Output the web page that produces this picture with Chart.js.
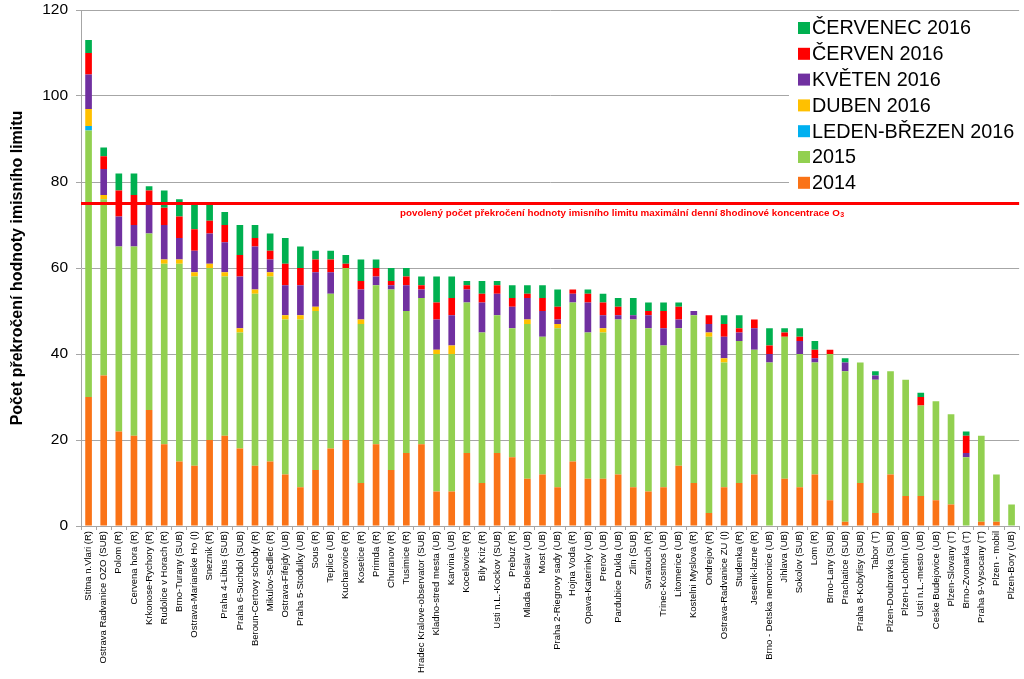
<!DOCTYPE html>
<html>
<head>
<meta charset="utf-8">
<script src="https://cdn.jsdelivr.net/npm/chart.js@4.4.1/dist/chart.umd.min.js"></script>
<style>
html,body{margin:0;padding:0;background:#fff;}
#wrap{width:1024px;height:679px;position:relative;}
</style>
</head>
<body>
<div id="wrap"><canvas id="c" width="1024" height="679"></canvas></div>
<script>
const categories = ["Stitna n.Vlari (R)","Ostrava Radvanice OZO (SUB)","Polom (R)","Cervena hora (R)","Krkonose-Rychory (R)","Rudolice v Horach (R)","Brno-Turany (SUB)","Ostrava-Marianske Ho (I)","Sneznik (R)","Praha 4-Libus (SUB)","Praha 6-Suchdol (SUB)","Beroun-Certovy schody (R)","Mikulov-Sedlec (R)","Ostrava-Fifejdy (UB)","Praha 5-Stodulky (UB)","Sous (R)","Teplice (UB)","Kucharovice (R)","Kosetice (R)","Primda (R)","Churanov (R)","Tusimice (R)","Hradec Kralove-observator (SUB)","Kladno-stred mesta (UB)","Karvina (UB)","Kocelovice (R)","Bily Kriz (R)","Usti n.L.-Kockov (SUB)","Prebuz (R)","Mlada Boleslav (UB)","Most (UB)","Praha 2-Riegrovy sady (UB)","Hojna Voda (R)","Opava-Katerinky (UB)","Prerov (UB)","Pardubice Dukla (UB)","Zlin (SUB)","Svratouch (R)","Trinec-Kosmos (UB)","Litomerice (UB)","Kostelni Myslova (R)","Ondrejov (R)","Ostrava-Radvanice ZU (I)","Studenka (R)","Jesenik-lazne (R)","Brno - Detska nemocnice (UB)","Jihlava (UB)","Sokolov (SUB)","Lom (R)","Brno-Lany (SUB)","Prachatice (SUB)","Praha 8-Kobylisy (SUB)","Tabor (T)","Plzen-Doubravka (SUB)","Plzen-Lochotin (UB)","Usti n.L.-mesto (UB)","Ceske Budejovice (UB)","Plzen-Slovany (T)","Brno-Zvonarka (T)","Praha 9-Vysocany (T)","Plzen - mobil","Plzen-Bory (UB)"];

const s2014 = [30,35,22,21,27,19,15,14,20,21,18,14,15,12,9,13,18,20,10,19,13,17,19,8,8,17,10,17,16,11,12,9,15,11,11,12,9,8,9,14,10,3,9,10,12,0,11,9,12,6,1,10,3,12,7,7,6,5,0,1,1,0];
const s2015 = [62,41,43,44,41,42,46,44,40,37,27,40,43,36,39,37,36,40,37,37,42,33,34,32,32,35,35,32,30,36,32,37,37,34,34,36,39,38,33,32,39,41,29,33,29,38,33,31,26,34,35,28,31,24,27,21,23,21,16,20,11,5];
const sLedenBrezen = [1,0,0,0,0,0,0,0,0,0,0,0,0,0,0,0,0,0,0,0,0,0,0,0,0,0,0,0,0,0,0,0,0,0,0,0,0,0,0,0,0,0,0,0,0,0,0,0,0,0,0,0,0,0,0,0,0,0,0,0,0,0];
const sDuben = [4,1,0,0,0,1,1,1,1,1,1,1,1,1,1,1,0,0,1,0,0,0,0,1,2,0,0,0,0,1,0,1,0,0,1,0,0,0,0,0,0,1,1,0,0,0,0,0,0,0,0,0,0,0,0,0,0,0,0,0,0,0];
const sKveten = [8,6,7,5,7,8,5,5,7,7,12,10,3,7,7,8,5,0,7,2,1,6,2,7,7,3,7,5,5,5,6,1,2,7,3,1,1,3,4,2,1,2,5,2,5,2,0,3,1,0,2,0,1,0,0,0,0,0,1,0,0,0];
const sCerven = [5,3,6,7,3,4,5,5,3,4,5,2,2,5,4,3,3,1,2,2,1,2,1,4,4,1,2,2,2,1,3,3,1,2,3,2,0,1,4,3,0,2,3,1,2,2,1,1,2,1,0,0,0,0,0,2,0,0,4,0,0,0];
const sCervenec = [3,2,4,5,1,4,4,6,4,3,7,3,4,6,5,2,2,2,5,2,3,2,2,6,5,1,3,1,3,2,3,4,0,1,2,2,4,2,2,1,0,0,2,3,0,4,1,2,2,0,1,0,1,0,0,1,0,0,1,0,0,0];

const yTicks = [0,20,40,60,80,100,120];
const limitValue = 75;
const limitText = "povolený počet překročení hodnoty imisního limitu maximální denní 8hodinové koncentrace O";
const yTitle = "Počet překročení hodnoty imisního limitu";

const seriesNames = ["2014","2015","LEDEN-BŘEZEN 2016","DUBEN 2016","KVĚTEN 2016","ČERVEN 2016","ČERVENEC 2016"];
const seriesData = [s2014,s2015,sLedenBrezen,sDuben,sKveten,sCerven,sCervenec];
const seriesColors = ["#FA7317","#92D050","#00B0F0","#FFC000","#7030A0","#FF0000","#00B050"];

const FONT = "'Liberation Sans', Arial, sans-serif";

const datasets = seriesNames.map((n,i)=>({
  label:n, data:seriesData[i], backgroundColor:seriesColors[i], borderWidth:0,
  barPercentage:0.44, categoryPercentage:1.0, stack:'s'
}));

const limitPlugin = {
  id:'limit',
  afterDatasetsDraw(chart){
    const ctx = chart.ctx, a = chart.chartArea, y = chart.scales.y.getPixelForValue(limitValue);
    ctx.save();
    ctx.strokeStyle = '#FF0000'; ctx.lineWidth = 3;
    ctx.beginPath(); ctx.moveTo(a.left, y); ctx.lineTo(a.right, y); ctx.stroke();
    ctx.fillStyle = '#FF0000';
    ctx.font = "bold 9.8px " + FONT;
    ctx.textBaseline = 'middle'; ctx.textAlign = 'left';
    const tx = 400, ty = y + 10;
    ctx.fillText(limitText, tx, ty);
    const w = ctx.measureText(limitText).width;
    ctx.font = "bold 7px " + FONT;
    ctx.fillText("3", tx + w + 0.5, ty + 2);
    ctx.restore();
  }
};

const legendPlugin = {
  id:'customLegend',
  afterDraw(chart){
    const ctx = chart.ctx;
    ctx.save();
    ctx.fillStyle = '#fff';
    ctx.fillRect(789, 13, 231, 185);
    ctx.font = "19.8px " + FONT;
    ctx.textBaseline = 'middle'; ctx.textAlign = 'left';
    for (let k = 0; k < seriesNames.length; k++) {
      const i = seriesNames.length - 1 - k;
      const cy = 28 + k * 25.8;
      ctx.fillStyle = seriesColors[i];
      ctx.fillRect(798, cy - 6, 12, 12);
      ctx.fillStyle = '#000';
      ctx.fillText(seriesNames[i], 812, cy + 1);
    }
    ctx.restore();
  }
};

new Chart(document.getElementById('c'), {
  type:'bar',
  data:{labels:categories, datasets:datasets},
  options:{
    responsive:false, animation:false,
    layout:{padding:{top:0,right:4,left:0,bottom:0}},
    plugins:{legend:{display:false}, tooltip:{enabled:false}},
    scales:{
      x:{
        stacked:true,
        grid:{display:true, drawOnChartArea:false, offset:true, tickLength:4, color:'#A6A6A6'},
        border:{color:'#A6A6A6'},
        ticks:{autoSkip:false, maxRotation:90, minRotation:90, padding:1, color:'#000', font:{family:FONT, size:9.5}},
        afterFit(s){ s.height = 153; s.paddingTop = 0; }
      },
      y:{
        stacked:true, min:0, max:120,
        afterBuildTicks(s){ s.ticks = yTicks.map(v=>({value:v})); },
        grid:{color:'#A6A6A6', tickLength:5},
        border:{color:'#A6A6A6'},
        ticks:{padding:8, color:'#000', font:{family:FONT, size:15.5}},
        title:{display:true, text:yTitle, color:'#000', padding:{top:8,bottom:0}, font:{family:FONT, size:16, weight:'bold'}},
        afterFit(s){ s.width = 81; s.paddingTop = 10; s.paddingBottom = 0; }
      }
    }
  },
  plugins:[limitPlugin, legendPlugin]
});
</script>
</body>
</html>
